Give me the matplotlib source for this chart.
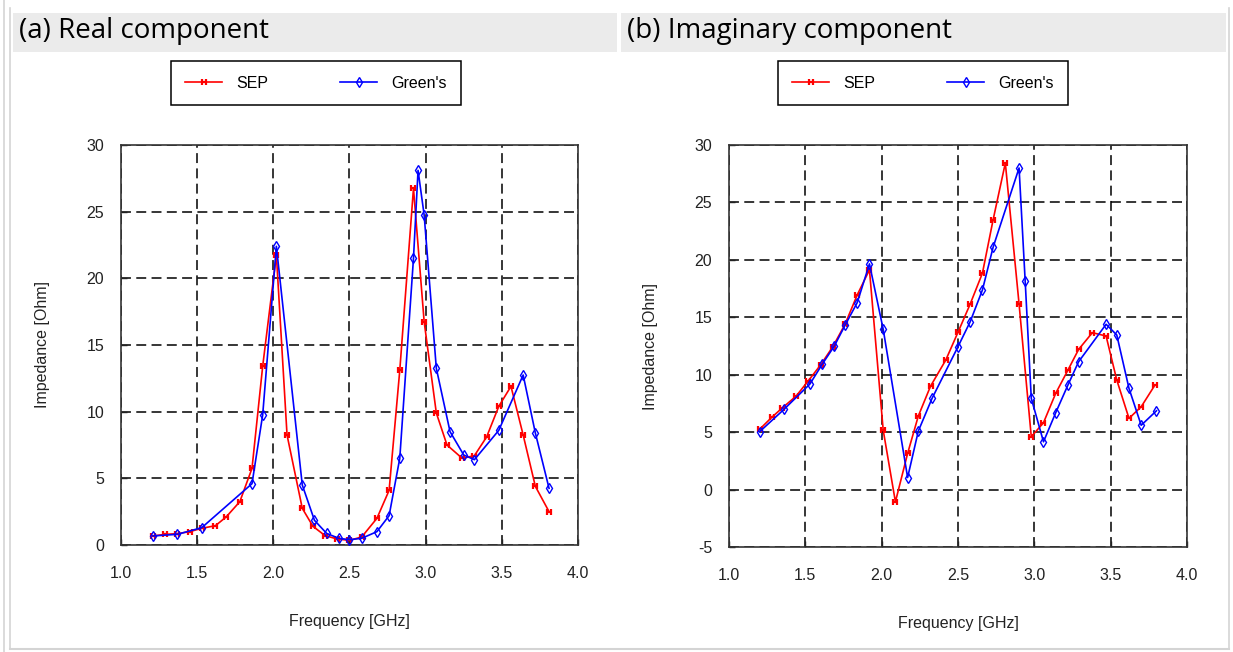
import matplotlib
matplotlib.use("Agg")
import matplotlib.pyplot as plt
from matplotlib.path import Path
from matplotlib.patches import Rectangle
from matplotlib.lines import Line2D

plt.rcParams["axes.unicode_minus"] = False
plt.rcParams["font.family"] = ["Liberation Sans", "DejaVu Sans"]

# (a) real component
real_sep_f = [1.21, 1.29, 1.37, 1.45, 1.53, 1.62, 1.69, 1.78, 1.86, 1.93, 2.02, 2.09, 2.19,
              2.26, 2.34, 2.42, 2.50, 2.58, 2.68, 2.76, 2.83, 2.92, 2.99, 3.07, 3.14, 3.24,
              3.32, 3.40, 3.48, 3.56, 3.64, 3.72, 3.81]
real_sep = [0.68, 0.8, 0.85, 1.0, 1.25, 1.45, 2.1, 3.25, 5.75, 13.4, 21.75, 8.25, 2.75,
            1.4, 0.7, 0.45, 0.35, 0.6, 2.0, 4.1, 13.1, 26.75, 16.75, 9.9, 7.5, 6.5,
            6.7, 8.1, 10.4, 11.9, 8.25, 4.4, 2.5]
real_grn_f = [1.21, 1.37, 1.53, 1.86, 1.93, 2.02, 2.19, 2.27, 2.35, 2.43, 2.50, 2.58, 2.68,
              2.76, 2.83, 2.92, 2.95, 2.99, 3.07, 3.16, 3.25, 3.32, 3.48, 3.64, 3.72, 3.81]
real_grn = [0.68, 0.8, 1.3, 4.6, 9.75, 22.4, 4.5, 1.85, 0.87, 0.5, 0.4, 0.5, 1.0,
            2.2, 6.5, 21.5, 28.1, 24.75, 13.25, 8.5, 6.75, 6.4, 8.6, 12.75, 8.4, 4.25]

# (b) imaginary component
imag_sep_f = [1.20, 1.28, 1.35, 1.44, 1.52, 1.60, 1.68, 1.76, 1.84, 1.92, 2.01, 2.09, 2.17,
              2.24, 2.32, 2.42, 2.50, 2.58, 2.66, 2.73, 2.81, 2.90, 2.98, 3.06, 3.14, 3.22,
              3.29, 3.38, 3.47, 3.54, 3.62, 3.70, 3.79]
imag_sep = [5.24, 6.29, 7.12, 8.14, 9.48, 10.85, 12.44, 14.39, 16.95, 19.13, 5.18, -1.07, 3.15,
            6.4, 9.0, 11.28, 13.7, 16.16, 18.84, 23.49, 28.43, 16.16, 4.6, 5.82, 8.38, 10.4,
            12.2, 13.66, 13.37, 9.54, 6.2, 7.21, 9.1]
imag_grn_f = [1.20, 1.36, 1.53, 1.61, 1.69, 1.76, 1.84, 1.92, 2.01, 2.17, 2.24, 2.33, 2.50,
              2.58, 2.66, 2.73, 2.90, 2.94, 2.98, 3.06, 3.14, 3.22, 3.29, 3.47, 3.54, 3.62,
              3.70, 3.80]
imag_grn = [5.03, 6.98, 9.19, 10.9, 12.5, 14.3, 16.28, 19.65, 13.96, 1.05, 5.09, 7.94, 12.44,
            14.62, 17.38, 21.1, 28.0, 18.17, 7.94, 4.16, 6.69, 9.1, 11.13, 14.39, 13.46, 8.81,
            5.6, 6.86]

titles = ["(a) Real component", "(b) Imaginary component"]
x_ticks = [1.0, 1.5, 2.0, 2.5, 3.0, 3.5, 4.0]

W, H = 1233, 652
fig = plt.figure(figsize=(W / 100, H / 100), dpi=100)
fig.patch.set_facecolor("white")

# "H" shaped marker for the SEP curve
h_marker = Path([(-0.5, -1), (-0.5, 1), (0.5, -1), (0.5, 1), (-0.5, 0), (0.5, 0)],
                [Path.MOVETO, Path.LINETO, Path.MOVETO, Path.LINETO, Path.MOVETO, Path.LINETO])


def px_rect(x0, y0, x1, y1):
    # pixel box (top-left origin) -> figure fraction
    return [x0 / W, 1 - y1 / H, (x1 - x0) / W, (y1 - y0) / H]


# outer frame and title bands
fig.add_artist(Line2D([4 / W, 4 / W], [0, 1], color="#d4d4d4", lw=1.2))
fig.add_artist(Line2D([10 / W, 10 / W], [3 / H, 1 - 8 / H], color="#d4d4d4", lw=1.2))
fig.add_artist(Line2D([1229 / W, 1229 / W], [3 / H, 1 - 8 / H], color="#d4d4d4", lw=1.2))
fig.add_artist(Line2D([10 / W, 1229 / W], [3 / H, 3 / H], color="#d4d4d4", lw=1.5))
for x0, x1, title in [(13, 617, titles[0]), (621, 1226, titles[1])]:
    r = Rectangle((x0 / W, 1 - 52 / H), (x1 - x0) / W, 39 / H, transform=fig.transFigure,
                  facecolor="#ebebeb", edgecolor="none")
    fig.add_artist(r)
    fig.text((x0 + 6) / W, 1 - 31 / H, title, fontsize=20, family="Open Sans",
             va="center", ha="left", color="black")

panels = [
    (px_rect(121, 145, 578, 545), real_sep_f, real_sep, real_grn_f, real_grn,
     (0, 30), [0, 5, 10, 15, 20, 25, 30], 316),
    (px_rect(729, 145, 1187, 547), imag_sep_f, imag_sep, imag_grn_f, imag_grn,
     (-5, 30), [-5, 0, 5, 10, 15, 20, 25, 30], 923),
]

for rect, sf, sv, gf, gv, ylim, yticks, lx in panels:
    ax = fig.add_axes(rect)
    ax.plot(sf, sv, color="#ff0000", lw=1.2, marker=h_marker, markersize=4.5,
            markeredgewidth=1.6, label="SEP", zorder=3)
    ax.plot(gf, gv, color="#0000ff", lw=1.2, marker="d", markersize=5.5,
            fillstyle="none", markeredgewidth=1.0, label="Green's", zorder=4)
    ax.set_xlim(1.0, 4.0)
    ax.set_ylim(*ylim)
    ax.set_xticks(x_ticks)
    ax.set_xticklabels([f"{t:.1f}" for t in x_ticks])
    ax.set_yticks(yticks)
    ax.grid(True, color="black", lw=1.1, linestyle=(0, (6.5, 3.5)))
    ax.tick_params(direction="in", length=4, width=1, colors="#222222", labelsize=11.5)
    ax.tick_params(axis="x", pad=15)
    ax.tick_params(axis="y", pad=12)
    for s in ax.spines.values():
        s.set_color("#333333")
        s.set_linewidth(1.2)
    ax.set_xlabel("Frequency [GHz]", fontsize=11.5, color="#222222", labelpad=24)
    ax.set_ylabel("Impedance [Ohm]", fontsize=11.5, color="#222222", labelpad=26)
    leg = ax.legend(loc="center", bbox_to_anchor=(lx / W, 1 - 83 / H),
                    bbox_transform=fig.transFigure, ncol=2, fontsize=11.5,
                    fancybox=False, framealpha=1, edgecolor="black",
                    handlelength=2.3, columnspacing=4.5, borderpad=0.9,
                    handletextpad=0.9)
    leg.get_frame().set_linewidth(1.1)

fig.savefig("out.png", dpi=100)
